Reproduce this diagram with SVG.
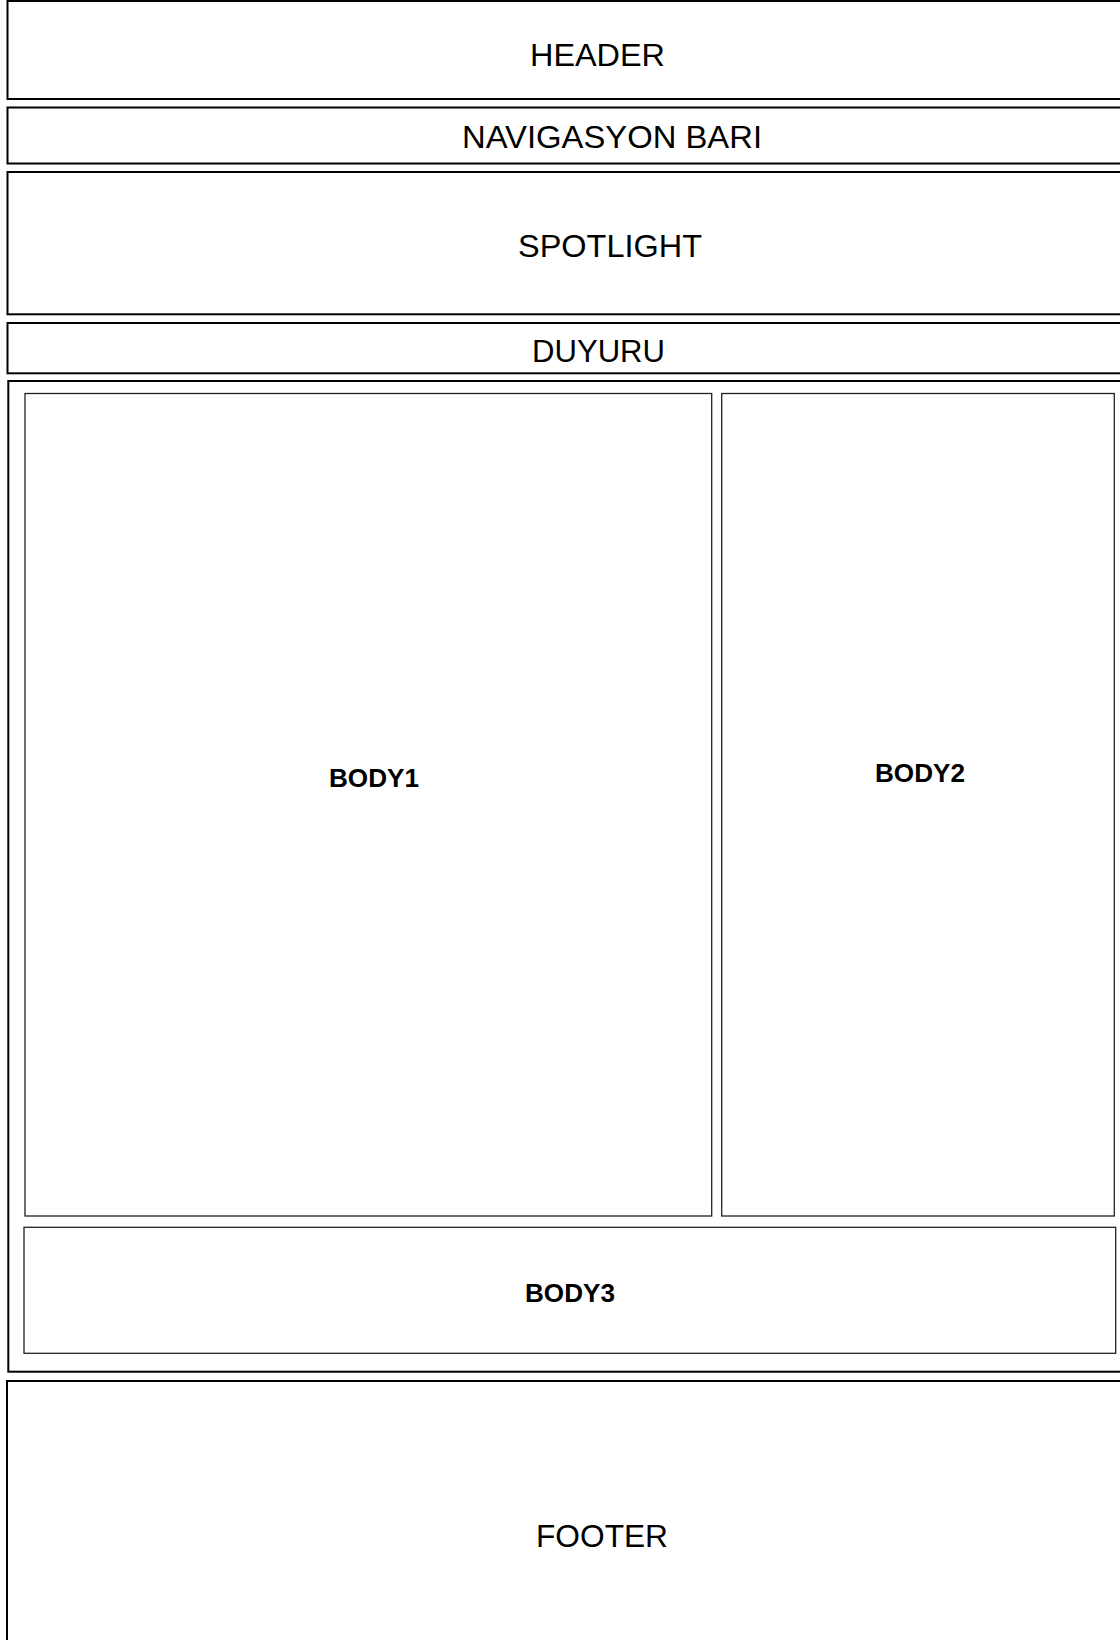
<svg xmlns="http://www.w3.org/2000/svg" width="1120" height="1640" viewBox="0 0 1120 1640">
<style>
.outer{fill:#fff;stroke:#000;stroke-width:2}
.inner{fill:#fff;stroke:#222;stroke-width:1.3}
.lbl{font-family:"Liberation Sans",Arial,sans-serif;font-size:31px;fill:#000;text-anchor:middle}
.blbl{font-family:"Liberation Sans",Arial,sans-serif;font-size:25px;font-weight:bold;fill:#000;text-anchor:middle}
</style>
<rect x="0" y="0" width="1120" height="1640" fill="#fff"/>
<g id="header">
<rect class="outer" x="7.5" y="1" width="1130" height="98"/>
<text class="lbl" x="597.5" y="66" textLength="135" lengthAdjust="spacingAndGlyphs">HEADER</text>
</g>
<g id="navigasyon">
<rect class="outer" x="7.5" y="107.5" width="1130" height="56"/>
<text class="lbl" x="612" y="148" textLength="300" lengthAdjust="spacingAndGlyphs">NAVIGASYON BARI</text>
</g>
<g id="spotlight">
<rect class="outer" x="7.5" y="172" width="1130" height="142.3"/>
<text class="lbl" x="610" y="257" textLength="184" lengthAdjust="spacingAndGlyphs">SPOTLIGHT</text>
</g>
<g id="duyuru">
<rect class="outer" x="7.5" y="323" width="1130" height="50.3"/>
<text class="lbl" x="598.5" y="362" textLength="133" lengthAdjust="spacingAndGlyphs">DUYURU</text>
</g>
<g id="body">
<rect class="outer" x="8.3" y="381" width="1130" height="990.7"/>
</g>
<g id="body1">
<rect class="inner" x="25" y="393.5" width="686.7" height="822.5"/>
<text class="blbl" x="374" y="787" textLength="90" lengthAdjust="spacingAndGlyphs">BODY1</text>
</g>
<g id="body2">
<rect class="inner" x="721.7" y="393.5" width="392.6" height="822.5"/>
<text class="blbl" x="920" y="782" textLength="90" lengthAdjust="spacingAndGlyphs">BODY2</text>
</g>
<g id="body3">
<rect class="inner" x="24" y="1227.3" width="1091.7" height="126"/>
<text class="blbl" x="570" y="1302" textLength="90" lengthAdjust="spacingAndGlyphs">BODY3</text>
</g>
<g id="footer">
<rect class="outer" x="7" y="1381" width="1130" height="300"/>
<text class="lbl" x="602" y="1547" textLength="132" lengthAdjust="spacingAndGlyphs">FOOTER</text>
</g>
<g id="connectors"></g>
</svg>
